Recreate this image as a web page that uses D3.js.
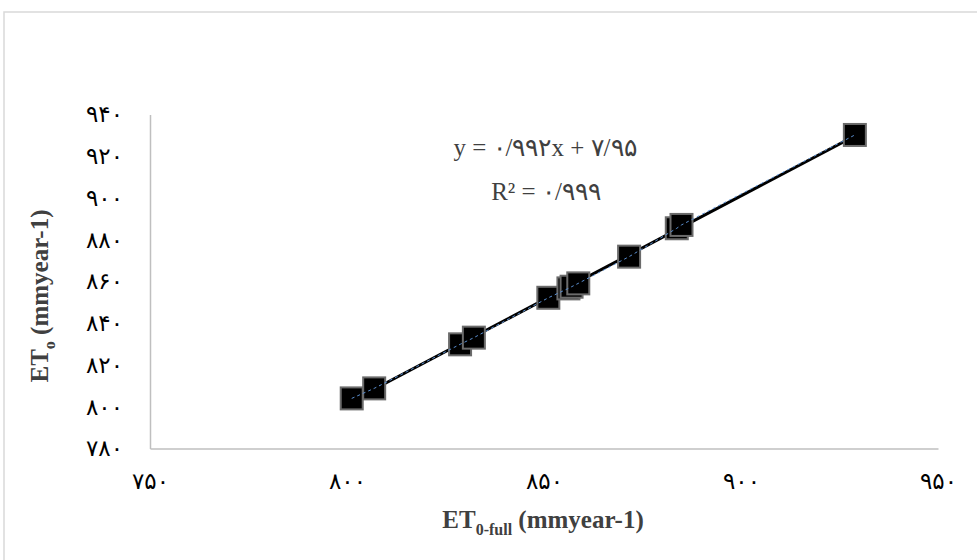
<!DOCTYPE html>
<html>
<head>
<meta charset="utf-8">
<script src="https://cdn.jsdelivr.net/npm/d3@7"></script>
<style>
  body { margin: 0; background: #fff; }
  svg { display: block; }
</style>
</head>
<body>
<svg id="chart"></svg>
<script>
// values
var etFull = [801.2, 806.9, 828.7, 832.2, 851.1, 856.2, 857.0, 858.7, 871.6, 883.7, 884.9, 928.9];
var etO    = [804.0, 808.8, 829.9, 833.1, 852.2, 856.7, 857.5, 859.1, 871.9, 885.5, 887.1, 930.2];
var xTicks = [750, 800, 850, 900, 950];
var yTicks = [780, 800, 820, 840, 860, 880, 900, 920, 940];
var eqLines = ["y = ۰/۹۹۲x + ۷/۹۵", "R² = ۰/۹۹۹"];

var W = 977, H = 560;
var margin = {left: 150, right: 39, top: 114.5, bottom: 111.5};

var persian = "۰۱۲۳۴۵۶۷۸۹";
function toPersian(n){
  return String(n).replace(/[0-9]/g, function(d){ return persian[+d]; });
}

var svg = d3.select("#chart").attr("width", W).attr("height", H);
svg.append("rect").attr("width", W).attr("height", H).attr("fill", "#fff");

// chart area border
svg.append("rect")
  .attr("x", 4).attr("y", 12)
  .attr("width", W + 10).attr("height", H)
  .attr("fill", "none")
  .attr("stroke", "#d9d9d9")
  .attr("stroke-width", 1.5);

var x = d3.scaleLinear().domain([750, 950]).range([margin.left, W - margin.right]);
var y = d3.scaleLinear().domain([780, 940]).range([H - margin.bottom, margin.top]);

// axes
var xAxis = d3.axisBottom(x).tickValues(xTicks).tickSize(0).tickPadding(24).tickFormat(toPersian);
var yAxis = d3.axisLeft(y).tickValues(yTicks).tickSize(0).tickPadding(27).tickFormat(toPersian);

var gx = svg.append("g").attr("transform", "translate(0," + y(780) + ")").call(xAxis);
var gy = svg.append("g").attr("transform", "translate(" + x(750) + ",0)").call(yAxis);

[gx, gy].forEach(function(g){
  g.select(".domain").attr("stroke", "#bfbfbf").attr("stroke-width", 1.5);
  g.selectAll("text")
    .attr("fill", "#000")
    .style("font-family", "'DejaVu Sans', sans-serif")
    .style("font-size", "23px");
});

// trendline (least squares of the points)
var mx = d3.mean(etFull), my = d3.mean(etO);
var sxy = d3.sum(etFull, function(v, i){ return (v - mx) * (etO[i] - my); });
var sxx = d3.sum(etFull, function(v){ return (v - mx) * (v - mx); });
var slope = sxy / sxx, icept = my - slope * mx;
var ext = d3.extent(etFull);

svg.append("line")
  .attr("x1", x(ext[0])).attr("y1", y(slope * ext[0] + icept))
  .attr("x2", x(ext[1])).attr("y2", y(slope * ext[1] + icept))
  .attr("stroke", "#000").attr("stroke-width", 3);

// markers
var pts = etFull.map(function(v, i){ return [v, etO[i]]; });
var sz = 22;
svg.append("g").selectAll("rect")
  .data(pts)
  .enter()
  .append("rect")
  .attr("x", function(d){ return x(d[0]) - sz/2; })
  .attr("y", function(d){ return y(d[1]) - sz/2; })
  .attr("width", sz).attr("height", sz)
  .attr("fill", "#000")
  .attr("stroke", "#6b6b6b")
  .attr("stroke-width", 2);

// dotted series line through the markers
var line = d3.line().x(function(d){ return x(d[0]); }).y(function(d){ return y(d[1]); });
svg.append("path")
  .datum(pts)
  .attr("d", line)
  .attr("fill", "none")
  .attr("stroke", "#5b8fd0")
  .attr("stroke-width", 1)
  .attr("stroke-dasharray", "3,3");

// equation text
svg.append("g").selectAll("text")
  .data(eqLines)
  .enter()
  .append("text")
  .attr("x", function(d, i){ return i === 0 ? 545 : 546; })
  .attr("y", function(d, i){ return 156 + i * 44; })
  .attr("text-anchor", "middle")
  .style("font-family", "'Liberation Serif', 'Times New Roman', serif")
  .style("font-size", "25px")
  .attr("fill", "#404040")
  .text(function(d){ return d; });

// axis titles
var xt = svg.append("text")
  .attr("x", 543).attr("y", 528)
  .attr("text-anchor", "middle")
  .style("font-family", "'Liberation Serif', 'Times New Roman', serif")
  .style("font-weight", "bold")
  .style("font-size", "25px")
  .attr("fill", "#404040");
xt.append("tspan").text("ET");
xt.append("tspan").attr("dy", 7).style("font-size", "16px").text("0-full");
xt.append("tspan").attr("dy", -7).text(" (mmyear-1)");

var yt = svg.append("text")
  .attr("transform", "translate(48," + 296 + ") rotate(-90)")
  .attr("text-anchor", "middle")
  .style("font-family", "'Liberation Serif', 'Times New Roman', serif")
  .style("font-weight", "bold")
  .style("font-size", "25px")
  .attr("fill", "#404040");
yt.append("tspan").text("ET");
yt.append("tspan").attr("dy", 7).style("font-size", "16px").text("o");
yt.append("tspan").attr("dy", -7).text(" (mmyear-1)");
</script>
</body>
</html>
